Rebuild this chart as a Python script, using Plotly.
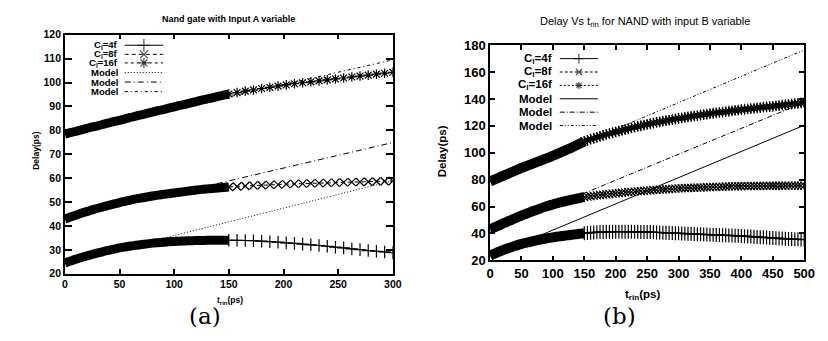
import plotly.graph_objects as go

W, H = 828, 341

# ---------------- data: panel (a) ----------------
a_tin = [i * 5 for i in range(31)] + [150 + 7.5 * i for i in range(1, 21)]
a_c4 = [24.5, 25.3, 26.1, 26.8, 27.5, 28.1, 28.7, 29.3, 29.8, 30.3,
        30.8, 31.2, 31.6, 31.9, 32.2, 32.5, 32.8, 33.0, 33.2, 33.4,
        33.5, 33.6, 33.7, 33.8, 33.9, 33.9, 34.0, 34.0, 34.0, 34.0, 34.0,
        34.0, 33.9, 33.8, 33.6, 33.4, 33.2, 32.9, 32.7, 32.4, 32.1,
        31.8, 31.5, 31.1, 30.8, 30.4, 30.1, 29.7, 29.4, 29.1, 28.8]
a_c8 = [42.8, 43.7, 44.5, 45.3, 46.0, 46.7, 47.4, 48.0, 48.6, 49.2,
        49.8, 50.3, 50.8, 51.3, 51.7, 52.1, 52.5, 52.9, 53.2, 53.5,
        53.8, 54.1, 54.4, 54.7, 55.0, 55.3, 55.5, 55.7, 55.9, 56.1, 56.3,
        56.5, 56.7, 56.9, 57.0, 57.2, 57.3, 57.5, 57.6, 57.7, 57.8,
        57.9, 58.0, 58.1, 58.2, 58.3, 58.4, 58.5, 58.6, 58.7, 58.8]
a_c16 = [78.4, 79.0, 79.6, 80.2, 80.8, 81.4, 81.9, 82.5, 83.1, 83.7,
         84.2, 84.8, 85.4, 85.9, 86.5, 87.1, 87.6, 88.2, 88.7, 89.3,
         89.8, 90.4, 90.9, 91.5, 92.0, 92.6, 93.1, 93.6, 94.2, 94.7, 95.2,
         95.8, 96.4, 96.9, 97.5, 98.0, 98.5, 99.0, 99.5, 99.9, 100.3,
         100.7, 101.1, 101.5, 101.9, 102.3, 102.7, 103.1, 103.5, 103.9, 104.3]
a_model_tin = [0, 300]
a_model4 = [24.5, 58.9]
a_model8 = [42.8, 74.9]
a_model16 = [78.4, 109.5]

# ---------------- data: panel (b) ----------------
b_tin = [i * 5 for i in range(101)]
b_c4 = [23.5, 24.6, 25.6, 26.6, 27.5, 28.4, 29.2, 30.0, 30.8, 31.5,
        32.2, 32.8, 33.4, 34.0, 34.5, 35.0, 35.5, 35.9, 36.3, 36.7,
        37.1, 37.5, 37.8, 38.1, 38.4, 38.7, 39.0, 39.3, 39.6, 39.9, 40.2,
        40.4, 40.6, 40.8, 40.9, 41.0, 41.1, 41.2, 41.2, 41.3, 41.3,
        41.3, 41.3, 41.3, 41.3, 41.2, 41.2, 41.2, 41.1, 41.1, 41.0,
        41.0, 40.9, 40.8, 40.7, 40.6, 40.5, 40.4, 40.3, 40.2, 40.1,
        40.0, 39.9, 39.8, 39.7, 39.6, 39.5, 39.4, 39.3, 39.2, 39.1,
        39.0, 38.9, 38.8, 38.7, 38.6, 38.5, 38.4, 38.3, 38.2, 38.1,
        38.0, 37.8, 37.7, 37.5, 37.4, 37.2, 37.1, 36.9, 36.8, 36.6,
        36.5, 36.3, 36.2, 36.0, 35.9, 35.8, 35.7, 35.6, 35.5, 35.4]
b_c8 = [43.0, 44.1, 45.2, 46.2, 47.3, 48.3, 49.3, 50.3, 51.3, 52.3,
        53.3, 54.2, 55.1, 56.0, 56.9, 57.7, 58.6, 59.4, 60.2, 60.9,
        61.6, 62.3, 62.9, 63.5, 64.1, 64.6, 65.1, 65.6, 66.1, 66.6, 67.0,
        67.4, 67.7, 68.0, 68.3, 68.6, 68.9, 69.1, 69.3, 69.6, 69.8,
        70.0, 70.3, 70.5, 70.7, 70.9, 71.1, 71.3, 71.5, 71.7, 71.9,
        72.1, 72.3, 72.4, 72.6, 72.7, 72.9, 73.0, 73.2, 73.3, 73.5,
        73.6, 73.7, 73.8, 73.9, 74.0, 74.1, 74.2, 74.3, 74.4, 74.5,
        74.6, 74.7, 74.7, 74.8, 74.9, 74.9, 75.0, 75.0, 75.1, 75.1,
        75.2, 75.2, 75.3, 75.3, 75.3, 75.4, 75.4, 75.4, 75.5, 75.5,
        75.5, 75.5, 75.5, 75.6, 75.6, 75.6, 75.6, 75.6, 75.6, 75.6]
b_c16 = [78.7, 79.7, 80.7, 81.7, 82.7, 83.7, 84.7, 85.7, 86.7, 87.7,
         88.7, 89.6, 90.5, 91.4, 92.3, 93.2, 94.1, 95.0, 95.9, 96.8,
         97.8, 98.8, 99.8, 100.8, 101.8, 102.8, 103.9, 105.0, 106.1, 107.3, 108.5,
         109.3, 110.1, 110.8, 111.5, 112.2, 112.9, 113.6, 114.2, 114.9, 115.5,
         116.1, 116.7, 117.3, 117.9, 118.5, 119.1, 119.6, 120.1, 120.6, 121.1,
         121.6, 122.1, 122.6, 123.0, 123.5, 123.9, 124.3, 124.7, 125.1, 125.5,
         125.9, 126.3, 126.7, 127.0, 127.4, 127.7, 128.1, 128.4, 128.8, 129.1,
         129.4, 129.7, 130.0, 130.3, 130.6, 130.9, 131.2, 131.5, 131.8, 132.1,
         132.4, 132.6, 132.9, 133.1, 133.4, 133.6, 133.9, 134.1, 134.4, 134.6,
         134.9, 135.1, 135.4, 135.6, 135.9, 136.2, 136.5, 136.8, 137.1, 137.4]
b_model_tin = [0, 500]
b_model4 = [23.0, 120.5]
b_model8 = [41.0, 137.5]
b_model16 = [78.5, 176.5]

legend_labels = ["C<sub>l</sub>=4f", "C<sub>l</sub>=8f", "C<sub>l</sub>=16f", "Model", "Model", "Model"]
dense_limit = 150  # simulation points up to 150 ps are so dense they merge into a band

# ---------------- styles ----------------
BLK = "black"
FONT = "Liberation Sans, Arial, sans-serif"
a_styles = [
    dict(dash="solid", symbol="cross-thin-open", size=9, lsize=9),
    dict(dash="4px,3px", symbol="x-thin-open", size=8, lsize=8),
    dict(dash="3px,3px", symbol="asterisk-open", size=8, lsize=8),
    dict(dash="1px,2px", symbol=None, size=0, lsize=0),
    dict(dash="6px,3px,1px,3px", symbol=None, size=0, lsize=0),
    dict(dash="3px,3px,1px,3px", symbol=None, size=0, lsize=0),
]
b_styles = [
    dict(dash="solid", symbol="cross-thin-open", size=10, lsize=7),
    dict(dash="3px,2px", symbol="x-thin-open", size=8, lsize=6),
    dict(dash="2px,2px", symbol="asterisk-open", size=9, lsize=6),
    dict(dash="solid", symbol=None, size=0, lsize=0),
    dict(dash="5px,2px,1px,2px", symbol=None, size=0, lsize=0),
    dict(dash="3px,2px,1px,2px,1px,2px", symbol=None, size=0, lsize=0),
]

fig = go.Figure()


def add_model(x, y, st, xa, ya):
    fig.add_trace(go.Scatter(x=x, y=y, mode="lines", xaxis=xa, yaxis=ya, showlegend=False,
                             hoverinfo="skip", line=dict(color=BLK, width=1, dash=st["dash"])))


def add_sim(x, y, st, xa, ya, band):
    dx = [v for v in x if v <= dense_limit]
    dy = y[:len(dx)]
    sx = x[len(dx) - 1:]
    sy = y[len(dx) - 1:]
    # dense part: overlapping markers form a solid band
    fig.add_trace(go.Scatter(x=dx, y=dy, mode="lines", xaxis=xa, yaxis=ya, showlegend=False,
                             hoverinfo="skip",
                             line=dict(color=BLK, width=band, simplify=False, shape="spline",
                                       smoothing=0.6)))
    # sparse part
    fig.add_trace(go.Scatter(x=sx, y=sy, mode="lines+markers", xaxis=xa, yaxis=ya, showlegend=False,
                             hoverinfo="skip",
                             line=dict(color=BLK, width=1, dash=st["dash"], simplify=False),
                             marker=dict(symbol=st["symbol"], size=st["size"], color=BLK,
                                         line=dict(color=BLK, width=1.2))))


a_sims = [a_c4, a_c8, a_c16]
a_models = [a_model4, a_model8, a_model16]
b_sims = [b_c4, b_c8, b_c16]
b_models = [b_model4, b_model8, b_model16]

for y, st in zip(a_models, a_styles[3:]):
    add_model(a_model_tin, y, st, "x", "y")
for y, st in zip(a_sims, a_styles[:3]):
    add_sim(a_tin, y, st, "x", "y", 9)
for y, st in zip(b_models, b_styles[3:]):
    add_model(b_model_tin, y, st, "x2", "y2")
for y, st in zip(b_sims, b_styles[:3]):
    add_sim(b_tin, y, st, "x2", "y2", 10)


# ---------------- manual gnuplot-style legends (text left, sample right) ----------------
def px(x):
    return x / W


def py(y):
    return 1 - y / H


annotations = []


def legend(rows_y, text_right, line_x0, line_x1, styles, fsize):
    for yy, lab, st in zip(rows_y, legend_labels, styles):
        annotations.append(dict(x=px(text_right), y=py(yy), xref="paper", yref="paper",
                                text=lab, showarrow=False, xanchor="right", yanchor="middle",
                                font=dict(family=FONT, size=fsize, color=BLK, weight="bold")))
        mid = (line_x0 + line_x1) / 2
        sizes = [0, st["lsize"], 0] if st["symbol"] else [0, 0, 0]
        fig.add_trace(go.Scatter(
            x=[line_x0, mid, line_x1], y=[yy, yy, yy], xaxis="x3", yaxis="y3",
            mode="lines+markers", showlegend=False, hoverinfo="skip",
            line=dict(color=BLK, width=1, dash=st["dash"]),
            marker=dict(symbol=st["symbol"] or "circle", size=sizes, color=BLK,
                        line=dict(color=BLK, width=1.2))))


legend([40, 49.5, 58.5, 68.5, 78.5, 88.5], 118, 123, 162, a_styles, 9.5)
legend([54, 68, 82, 96, 110, 124], 560, 566, 605, b_styles, 11.5)


# ---------------- text ----------------
def txt(x, y, s, size, family=FONT, weight="bold", angle=0):
    annotations.append(dict(x=px(x), y=py(y), xref="paper", yref="paper", text=s,
                            showarrow=False, xanchor="center", yanchor="middle", textangle=angle,
                            font=dict(family=family, size=size, color=BLK, weight=weight)))


txt(229, 13, "Nand gate with Input A variable", 9)
txt(653, 16, "Delay Vs t<sub>rin</sub> for NAND with input B variable", 11, weight="normal")
txt(33, 150, "Delay(ps)", 8.5, angle=-90)
txt(446, 151, "Delay(ps)", 11.5, angle=-90)
txt(230, 307, "t<sub>rin</sub>(ps)", 8.5)
txt(650, 301, "t<sub>rin</sub>(ps)", 11.5)
txt(205, 323, "(a)", 23, family="DejaVu Serif", weight="normal")
txt(627, 323, "(b)", 23, family="DejaVu Serif", weight="normal")

axis_common = dict(showgrid=False, zeroline=False, showline=True, linecolor=BLK, linewidth=1.5,
                   mirror="ticks", ticks="inside", tickcolor=BLK, tickwidth=1.5)

fig.update_layout(
    width=W, height=H, margin=dict(l=0, r=0, t=0, b=0),
    paper_bgcolor="white", plot_bgcolor="rgba(0,0,0,0)", showlegend=False,
    xaxis=dict(domain=[px(62), px(396)], range=[0, 300], dtick=50, anchor="y", ticklen=5,
               tickfont=dict(family=FONT, size=10.5, color=BLK, weight="bold"), **axis_common),
    yaxis=dict(domain=[py(279), py(29)], range=[20, 120], dtick=10, anchor="x", ticklen=7,
               tickfont=dict(family=FONT, size=10.5, color=BLK, weight="bold"), **axis_common),
    xaxis2=dict(domain=[px(495), px(815)], range=[0, 500], dtick=50, anchor="y2", ticklen=5,
                tickfont=dict(family=FONT, size=13, color=BLK, weight="bold"), **axis_common),
    yaxis2=dict(domain=[py(265), py(40)], range=[20, 180], dtick=20, anchor="x2", ticklen=5,
                tickfont=dict(family=FONT, size=13, color=BLK, weight="bold"), **axis_common),
    xaxis3=dict(domain=[0, 1], range=[0, W], visible=False, anchor="y3"),
    yaxis3=dict(domain=[0, 1], range=[H, 0], visible=False, anchor="x3"),
    annotations=annotations,
)

fig.write_html("out.html")
